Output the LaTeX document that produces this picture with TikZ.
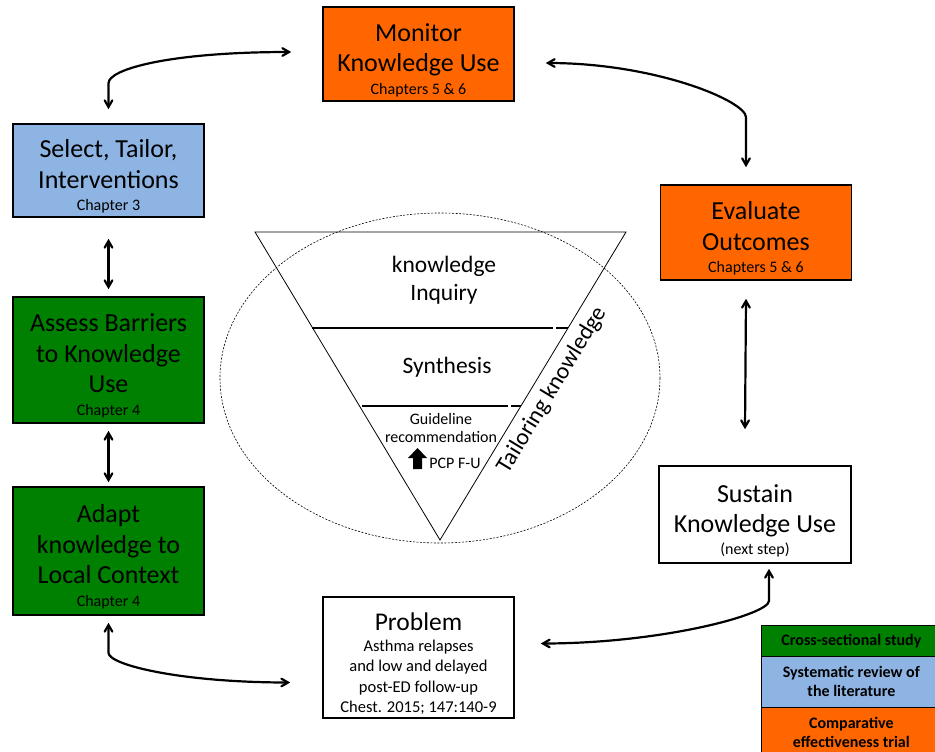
\documentclass[tikz,border=0pt]{standalone}
\usepackage{fontspec}
\setmainfont{Carlito}
\usetikzlibrary{arrows}
\definecolor{studyorange}{RGB}{255,102,0}
\definecolor{studyblue}{RGB}{141,180,226}
\definecolor{studygreen}{RGB}{0,128,0}
\newcommand{\chapterline}[1]{{\fontsize{16}{18}\selectfont #1}}
\newcommand{\topgap}{\rule{0pt}{30pt}}

\begin{document}
\begin{tikzpicture}[x=1pt,y=-1pt]
\tikzset{stage/.style={draw, line width=1.6pt, minimum width=191pt, align=center, inner sep=0pt, font=\fontsize{26}{30.5}\selectfont},
  flow/.style={<->, >=angle 60, line width=2.2pt},
  key/.style={draw, line width=0.8pt, minimum width=180pt, anchor=north west, align=center, inner sep=0pt, font=\bfseries\fontsize{16}{19}\selectfont}}
\useasboundingbox (0,0) rectangle (935,752);
\clip (0,0) rectangle (935,752);
\node[stage, fill=studyorange, minimum height=94pt] (monitor) at (418.5,54) {\topgap Monitor\\Knowledge Use\\[-8pt]\chapterline{Chapters 5 \& 6}};
\node[stage, fill=studyblue, minimum height=93pt] (select) at (108.5,170.5) {\topgap Select, Tailor,\\Interventions\\[-8pt]\chapterline{Chapter 3}};
\node[stage, fill=studyorange, minimum height=95pt] (evaluate) at (756,232.5) {\topgap Evaluate\\Outcomes\\[-8pt]\chapterline{Chapters 5 \& 6}};
\node[stage, fill=studygreen, minimum height=126pt] (assess) at (108.5,360) {\topgap Assess Barriers\\to Knowledge\\Use\\[-8pt]\chapterline{Chapter 4}};
\node[stage, fill=studygreen, minimum height=128pt] (adapt) at (108.5,551) {\topgap Adapt\\knowledge to\\Local Context\\[-8pt]\chapterline{Chapter 4}};
\node[stage, minimum height=97pt, minimum width=192pt] (sustain) at (755,514.5) {\topgap Sustain\\Knowledge Use\\[-9pt]\chapterline{(next step)}};
\node[stage, minimum height=121pt, font=\fontsize{16.5}{20.5}\selectfont] (problem) at (418.5,657.5) {\topgap{\fontsize{25.5}{28}\selectfont Problem}\\[0.5pt]Asthma relapses\\and low and delayed\\post-ED follow-up\\Chest. 2015; 147:140-9};

\draw[dash pattern=on 2pt off 1.5pt, line width=0.6pt] (440,378) ellipse [x radius=220, y radius=165];
\draw[line width=0.8pt] (255,232) -- (626,232) -- (440,540) -- cycle;
\draw[line width=1.1pt] (312,328) -- (553,328) (556,328) -- (568,328);
\draw[line width=1.1pt] (362,406) -- (508,406) (511,406) -- (521,406);
\node[font=\fontsize{23.5}{28}\selectfont, align=center] (inquiry) at (444,280) {knowledge\\Inquiry};
\node[font=\fontsize{23.5}{28}\selectfont] (synthesis) at (447,367) {Synthesis};
\node[font=\fontsize{16}{18}\selectfont, align=center, inner sep=0pt] (guideline) at (441,428) {Guideline\\recommendation};
\node[font=\fontsize{16}{18}\selectfont, inner sep=0pt] (pcp) at (455,463) {PCP F-U};
\fill (417.5,448) -- (427,458) -- (422,458) -- (422,469) -- (413,469) -- (413,458) -- (408,458) -- cycle;
\node[font=\fontsize{23.4}{26}\selectfont, rotate=58.7] (tailoring) at (552,390) {Tailoring knowledge};

\draw[flow] ([yshift=14pt]select.north) -- ++(0pt,26pt) .. controls +(0pt,14pt) and +(-122pt,0pt) .. ([xshift=-31pt,yshift=2pt]monitor.west);
\draw[flow] ([xshift=-10pt,yshift=17pt]evaluate.north) -- ++(0pt,50pt) .. controls +(0pt,16pt) and +(110pt,0pt) .. ([xshift=31pt,yshift=-9pt]monitor.east);
\draw[flow] ([yshift=-21pt]select.south) -- ([yshift=7pt]assess.north);
\draw[flow] ([yshift=-7pt]assess.south) -- ([yshift=4pt]adapt.north);
\draw[flow] ([xshift=-10pt,yshift=-18pt]evaluate.south) -- ([xshift=-10pt,yshift=36pt]sustain.north);
\draw[flow] ([yshift=-7pt]adapt.south) -- ++(0pt,-30pt) .. controls +(0pt,-12pt) and +(-110pt,0pt) .. ([xshift=-32pt,yshift=-25pt]problem.west);
\draw[flow] ([xshift=14pt,yshift=-5pt]sustain.south) -- ++(0pt,-32pt) .. controls +(0pt,-14pt) and +(120pt,0pt) .. ([xshift=26pt,yshift=14pt]problem.east);

\node[key, fill=studygreen, minimum height=31pt] (crosssec) at (761,625) {Cross-sectional study};
\node[key, fill=studyblue, minimum height=51pt] (review) at (761,656) {Systematic review of\\the literature};
\node[key, fill=studyorange, minimum height=50pt] (trial) at (761,707) {Comparative\\effectiveness trial};
\end{tikzpicture}
\end{document}
